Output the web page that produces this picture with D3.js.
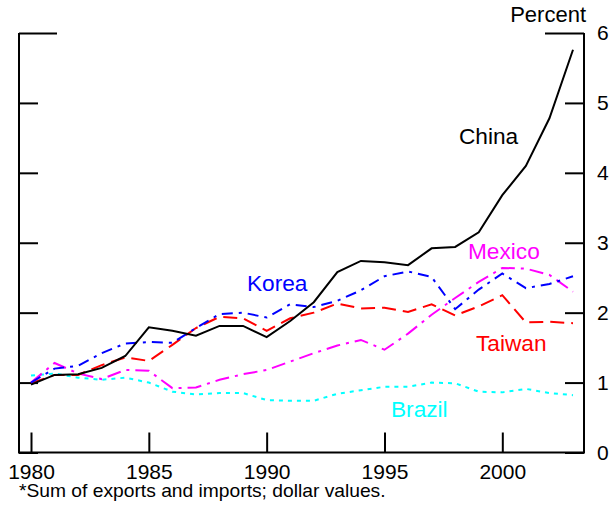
<!DOCTYPE html>
<html>
<head>
<meta charset="utf-8">
<script src="https://cdn.jsdelivr.net/npm/d3@7"></script>
<style>
  body { margin: 0; background: #fff; }
  svg { display: block; font-family: "Liberation Sans", Arial, sans-serif; }
</style>
</head>
<body>
<svg id="chart" width="613" height="505"></svg>
<script>
// years 1980..2003
const years = d3.range(1980, 2004)

const china  = [0.97, 1.11, 1.12, 1.21, 1.38, 1.79, 1.74, 1.67, 1.81, 1.81, 1.65, 1.88, 2.15, 2.58, 2.74, 2.72, 2.68, 2.92, 2.94, 3.15, 3.68, 4.10, 4.78, 5.76]
const korea  = [1.00, 1.20, 1.24, 1.42, 1.56, 1.58, 1.57, 1.78, 1.98, 2.00, 1.93, 2.12, 2.08, 2.17, 2.32, 2.52, 2.59, 2.51, 2.05, 2.33, 2.56, 2.35, 2.41, 2.52]
const taiwan = [0.99, 1.11, 1.11, 1.25, 1.36, 1.31, 1.54, 1.78, 1.94, 1.92, 1.74, 1.92, 2.00, 2.13, 2.06, 2.07, 2.01, 2.12, 1.96, 2.09, 2.25, 1.86, 1.87, 1.85]
const mexico = [1.00, 1.28, 1.13, 1.05, 1.18, 1.17, 0.92, 0.93, 1.04, 1.12, 1.18, 1.30, 1.42, 1.53, 1.61, 1.47, 1.70, 1.97, 2.21, 2.44, 2.64, 2.63, 2.54, 2.30]
const brazil = [1.10, 1.13, 1.07, 1.04, 1.07, 1.00, 0.87, 0.83, 0.85, 0.85, 0.75, 0.74, 0.74, 0.84, 0.89, 0.94, 0.94, 1.00, 0.99, 0.87, 0.86, 0.91, 0.85, 0.82]

const x_ticks = [1980, 1985, 1990, 1995, 2000]
const y_ticks = [0, 1, 2, 3, 4, 5, 6]

const series = [
    {name: 'Brazil', values: brazil, color: '#00ffff', dash: '4,5',          label: [391, 417]},
    {name: 'Mexico', values: mexico, color: '#ff00ff', dash: '14,6,3,6',     label: [468, 259]},
    {name: 'Taiwan', values: taiwan, color: '#ff0000', dash: '14,7',         label: [476, 351]},
    {name: 'Korea',  values: korea,  color: '#0000ff', dash: '11,6,3,6',     label: [247, 291]},
    {name: 'China',  values: china,  color: '#000000', dash: null,           label: [459, 144]},
]

const svg = d3.select('#chart')

/* 画布参数 */
const pad_left = 19, pad_right = 584, pad_top = 33, pad_bottom = 452.5
const font_size = 21, label_size = 22

const x = d3.scaleLinear().domain([1980, 2003]).range([31, 573])
const y = d3.scaleLinear().domain([0, 6]).range([pad_bottom, pad_top])

/* 框线: 左 右 下 */
svg.append('path')
    .attr('d', `M${pad_left},${pad_top} L${pad_left},${pad_bottom} L${pad_right},${pad_bottom} L${pad_right},${pad_top}`)
    .attr('fill', 'none')
    .attr('stroke', '#000')
    .attr('stroke-width', 2)

/* x 轴 (刻度朝上) */
const gx = svg.append('g')
    .attr('transform', `translate(0,${pad_bottom})`)
    .call(d3.axisBottom(x).tickValues(x_ticks).tickFormat(d3.format('d'))
        .tickSize(-20).tickSizeOuter(0).tickPadding(12))
gx.select('.domain').remove()
gx.selectAll('line').attr('stroke-width', 2)
gx.selectAll('text').style('font-size', `${font_size}px`).attr('fill', '#000')

/* 右侧 y 轴, 带数字 */
const gy = svg.append('g')
    .attr('transform', `translate(${pad_right},0)`)
    .call(d3.axisRight(y).tickValues(y_ticks).tickFormat(d3.format('d'))
        .tickSize(-19).tickSizeOuter(0).tickPadding(13))
gy.select('.domain').remove()
gy.selectAll('line').attr('stroke-width', 2).attr('x2', d => d == 6 ? -39 : -19)
gy.selectAll('text').style('font-size', `${font_size}px`).attr('fill', '#000')

/* 左侧 y 轴, 只有刻度 */
const gyl = svg.append('g')
    .attr('transform', `translate(${pad_left},0)`)
    .call(d3.axisLeft(y).tickValues(y_ticks).tickSize(-19).tickSizeOuter(0).tickFormat(''))
gyl.select('.domain').remove()
gyl.selectAll('line').attr('stroke-width', 2).attr('x2', d => d == 6 ? 38 : 19)

/* Percent */
svg.append('text')
    .attr('x', 586).attr('y', 22)
    .attr('text-anchor', 'end')
    .style('font-size', `${label_size}px`)
    .text('Percent')

/* 各条线 */
const line = d3.line()
    .x((d, i) => x(years[i]))
    .y(d => y(d))

svg.selectAll('.series')
    .data(series)
    .join('path')
    .classed('series', true)
    .attr('d', d => line(d.values))
    .attr('fill', 'none')
    .attr('stroke', d => d.color)
    .attr('stroke-width', 2)
    .attr('stroke-dasharray', d => d.dash)

svg.selectAll('.series_label')
    .data(series)
    .join('text')
    .classed('series_label', true)
    .attr('transform', d => `translate(${d.label[0]},${d.label[1]}) scale(1.03,1)`)
    .attr('fill', d => d.color)
    .style('font-size', `${label_size}px`)
    .text(d => d.name)

/* 脚注 (原图里字体略宽) */
svg.append('text')
    .attr('transform', 'translate(19,497) scale(1.1,1)')
    .style('font-size', '17.5px')
    .text('*Sum of exports and imports; dollar values.')
</script>
</body>
</html>
